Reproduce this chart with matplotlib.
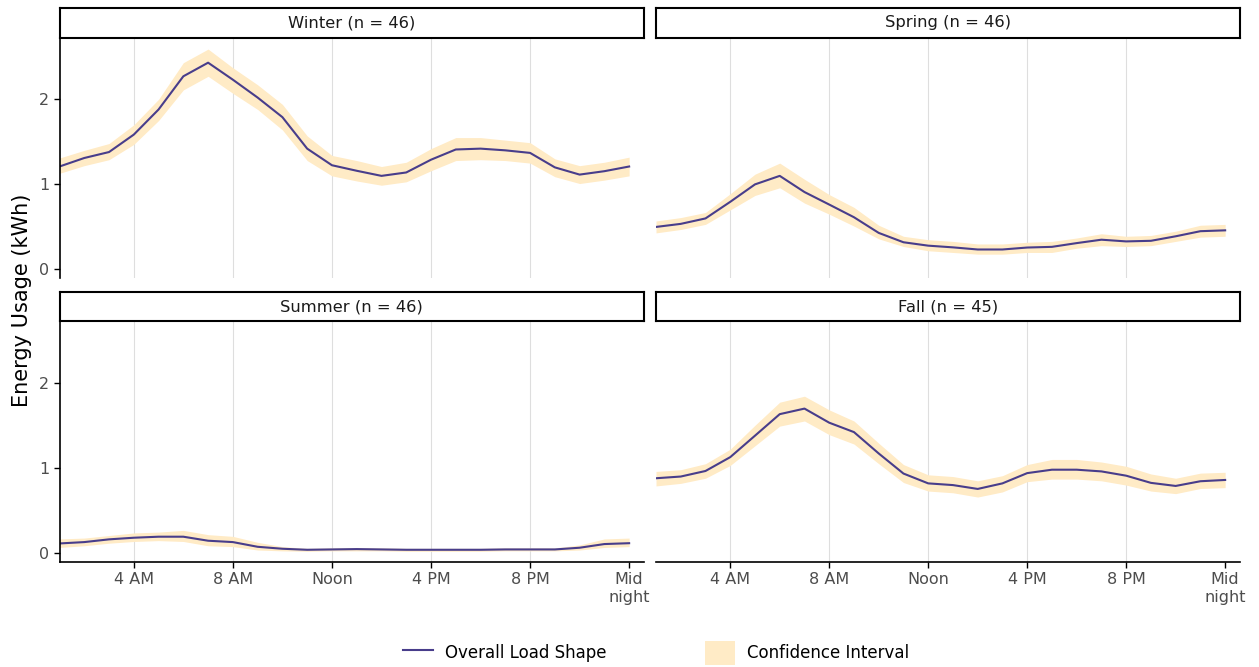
import matplotlib
matplotlib.use("Agg")
import matplotlib.pyplot as plt
from matplotlib.lines import Line2D
from matplotlib.patches import Patch

hours = list(range(1, 25))
tick_hours = [4, 8, 12, 16, 20, 24]
tick_labels = ["4 AM", "8 AM", "Noon", "4 PM", "8 PM", "Mid\nnight"]

seasons = ["Winter (n = 46)", "Spring (n = 46)", "Summer (n = 46)", "Fall (n = 45)"]

winter_mean = [1.21, 1.31, 1.38, 1.585, 1.88, 2.27, 2.43, 2.23, 2.02, 1.79, 1.42, 1.225,
               1.16, 1.10, 1.14, 1.29, 1.41, 1.42, 1.40, 1.37, 1.20, 1.115, 1.155, 1.21]
winter_upper = [1.31, 1.40, 1.48, 1.70, 2.00, 2.43, 2.59, 2.37, 2.17, 1.94, 1.57, 1.34,
                1.28, 1.21, 1.26, 1.42, 1.55, 1.55, 1.52, 1.49, 1.30, 1.22, 1.26, 1.32]
winter_lower = [1.13, 1.22, 1.29, 1.47, 1.75, 2.11, 2.27, 2.07, 1.88, 1.64, 1.28, 1.10,
                1.04, 0.99, 1.03, 1.16, 1.28, 1.29, 1.28, 1.25, 1.09, 1.01, 1.05, 1.10]

spring_mean = [0.50, 0.536, 0.60, 0.795, 1.00, 1.10, 0.91, 0.763, 0.614, 0.43, 0.32, 0.28,
               0.26, 0.235, 0.235, 0.258, 0.266, 0.31, 0.35, 0.33, 0.337, 0.39, 0.45, 0.46]
spring_upper = [0.57, 0.61, 0.67, 0.89, 1.12, 1.25, 1.06, 0.88, 0.73, 0.52, 0.39, 0.35,
                0.33, 0.30, 0.30, 0.32, 0.33, 0.37, 0.42, 0.39, 0.40, 0.45, 0.52, 0.53]
spring_lower = [0.43, 0.47, 0.53, 0.70, 0.87, 0.96, 0.78, 0.65, 0.51, 0.36, 0.27, 0.22,
                0.20, 0.18, 0.18, 0.20, 0.20, 0.25, 0.28, 0.27, 0.28, 0.33, 0.38, 0.39]

summer_mean = [0.117, 0.133, 0.165, 0.184, 0.196, 0.196, 0.149, 0.133, 0.078, 0.055, 0.043, 0.047,
               0.051, 0.047, 0.043, 0.043, 0.043, 0.043, 0.047, 0.047, 0.047, 0.067, 0.11, 0.12]
summer_upper = [0.17, 0.18, 0.21, 0.24, 0.25, 0.27, 0.22, 0.20, 0.13, 0.08, 0.06, 0.065,
                0.07, 0.065, 0.06, 0.06, 0.06, 0.06, 0.065, 0.065, 0.065, 0.10, 0.17, 0.18]
summer_lower = [0.07, 0.09, 0.12, 0.14, 0.15, 0.14, 0.09, 0.08, 0.04, 0.03, 0.025, 0.03,
                0.03, 0.03, 0.025, 0.025, 0.025, 0.025, 0.03, 0.03, 0.03, 0.04, 0.07, 0.08]

fall_mean = [0.88, 0.90, 0.965, 1.127, 1.378, 1.63, 1.695, 1.53, 1.42, 1.17, 0.935, 0.82,
             0.80, 0.755, 0.82, 0.94, 0.98, 0.98, 0.96, 0.91, 0.826, 0.79, 0.845, 0.86]
fall_upper = [0.96, 0.98, 1.05, 1.22, 1.50, 1.77, 1.84, 1.68, 1.55, 1.29, 1.04, 0.92,
              0.90, 0.85, 0.91, 1.04, 1.10, 1.10, 1.07, 1.02, 0.93, 0.88, 0.94, 0.95]
fall_lower = [0.79, 0.82, 0.88, 1.03, 1.26, 1.49, 1.55, 1.39, 1.28, 1.05, 0.83, 0.73,
              0.71, 0.66, 0.72, 0.84, 0.87, 0.87, 0.85, 0.80, 0.73, 0.70, 0.76, 0.77]

means = [winter_mean, spring_mean, summer_mean, fall_mean]
uppers = [winter_upper, spring_upper, summer_upper, fall_upper]
lowers = [winter_lower, spring_lower, summer_lower, fall_lower]

LINE = "#483D8B"
FILL = "#FFEBC6"
W, H = 1259, 667

fig = plt.figure(figsize=(W / 100, H / 100), dpi=100)


def px(x0, y0, x1, y1):
    # pixel box (top-down) -> figure fraction rect
    return [x0 / W, 1 - y1 / H, (x1 - x0) / W, (y1 - y0) / H]


cols = [(59.5, 644), (656, 1240)]
rows = [((8, 38), (38, 278)), ((292, 321), (321, 562))]

for i in range(4):
    r, c = divmod(i, 2)
    x0, x1 = cols[c]
    (s0, s1), (p0, p1) = rows[r]

    ax = fig.add_axes(px(x0, p0, x1, p1))
    ax.fill_between(hours, lowers[i], uppers[i], color=FILL, lw=0)
    ax.plot(hours, means[i], color=LINE, lw=1.5)
    ax.set_xlim(1, 24.6)
    ax.set_ylim(-0.1, 2.72)
    ax.set_xticks(tick_hours)
    ax.set_yticks([0, 1, 2])
    ax.grid(axis="x", color="#dedede", lw=0.8)
    ax.get_xgridlines()[-1].set_visible(False)  # no line at midnight
    ax.set_axisbelow(True)
    for s in ax.spines.values():
        s.set_visible(False)

    if c == 0:
        ax.spines["left"].set_visible(True)
        ax.spines["left"].set_linewidth(1.2)
        ax.tick_params(axis="y", length=4, width=1, colors="black",
                       labelcolor="#4d4d4d", labelsize=11.5)
    else:
        ax.tick_params(axis="y", length=0, labelleft=False)

    if r == 1:
        ax.spines["bottom"].set_visible(True)
        ax.spines["bottom"].set_linewidth(1.2)
        ax.set_xticklabels(tick_labels)
        ax.tick_params(axis="x", length=4, width=1, colors="black",
                       labelcolor="#4d4d4d", labelsize=11.5)
    else:
        ax.tick_params(axis="x", length=0, labelbottom=False)

    sax = fig.add_axes(px(x0, s0, x1, s1))
    sax.set_xticks([])
    sax.set_yticks([])
    for s in sax.spines.values():
        s.set_linewidth(1.5)
    sax.text(0.5, 0.5, seasons[i], ha="center", va="center", fontsize=11.8,
             color="#1a1a1a", transform=sax.transAxes)

fig.text(22 / W, 1 - 300 / H, "Energy Usage (kWh)", rotation=90,
         ha="center", va="center", fontsize=15)

handles = [Line2D([], [], color=LINE, lw=1.5),
           Patch(facecolor=FILL, edgecolor="none")]
fig.legend(handles, ["Overall Load Shape", "Confidence Interval"],
           loc="center", bbox_to_anchor=(656 / W, 1 - 653 / H), ncol=2,
           frameon=False, fontsize=12, handlelength=1.8, handleheight=1.8,
           handletextpad=0.7, columnspacing=5.9)

fig.savefig("out.png", dpi=100)
